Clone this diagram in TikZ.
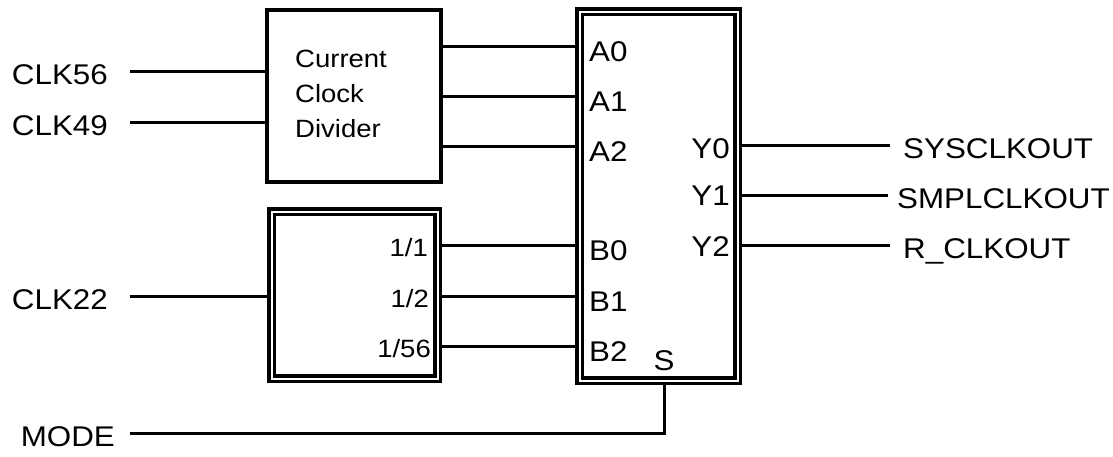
\documentclass[tikz,border=0pt]{standalone}
\usepackage{fontspec}
\setmainfont{Liberation Sans}[FakeStretch=1.1]
\usetikzlibrary{positioning,backgrounds}

\begin{document}
\begin{tikzpicture}[
  x=1pt, y=-1pt,
  wire/.style={line width=3pt},
  blk/.style={draw, line width=4pt, fill=white, inner sep=0pt},
  dblk/.style={draw, double, line width=3.5pt, double distance=2pt, fill=white, inner sep=0pt},
  inport/.style={font=\fontsize{28.5}{34}\selectfont, anchor=east, inner ysep=0pt,
                 inner xsep=22pt, text height=27pt, text depth=0pt},
  outport/.style={font=\fontsize{28.5}{34}\selectfont, anchor=west, inner ysep=0pt,
                  inner xsep=13pt, text height=26pt, text depth=0pt},
  pin/.style={font=\fontsize{28.5}{34}\selectfont, anchor=west, inner sep=0pt,
              text height=31pt, text depth=0pt},
  ratio/.style={font=\fontsize{25}{30}\selectfont, anchor=east, inner sep=0pt,
                text height=23pt, text depth=0pt}
]
\useasboundingbox (0,0) rectangle (1113,456);
% --- blocks -------------------------------------------------------------
\node[blk, minimum width=174pt, minimum height=172pt] (ccd) at (354,96) {};
\node[dblk, minimum width=166pt, minimum height=167pt] (div) at (354.5,295) {};
\node[dblk, minimum width=158pt, minimum height=369pt] (mux) at (658.5,196) {};
\node[anchor=north west, align=left, inner sep=0pt,
      font=\fontsize{25}{35}\selectfont] (ccdtxt) at (295,50) {Current\\Clock\\Divider};
% --- inputs -------------------------------------------------------------
\node[inport] (clk56) at (130,71)  {CLK56};
\node[inport] (clk49) at (130,122) {CLK49};
\node[inport] (clk22) at (130,296) {CLK22};
\node[inport, inner xsep=15pt] (mode) at (130,433) {MODE};
% --- divider taps -------------------------------------------------------
\node[ratio] (r1)  at (428,245) {1/1};
\node[ratio] (r2)  at (429,296) {1/2};
\node[ratio] (r56) at (431,346) {1/56};
% --- mux pins -----------------------------------------------------------
\node[pin] (a0) at (589,46)  {A0};
\node[pin] (a1) at (589,96)  {A1};
\node[pin] (a2) at (589,146) {A2};
\node[pin] (b0) at (589,245) {B0};
\node[pin] (b1) at (589,296) {B1};
\node[pin] (b2) at (589,346) {B2};
\node[font=\fontsize{28.5}{34}\selectfont, anchor=base east, inner sep=0pt] (y0) at (730,158) {Y0};
\node[font=\fontsize{28.5}{34}\selectfont, anchor=base east, inner sep=0pt] (y1) at (730,205) {Y1};
\node[font=\fontsize{28.5}{34}\selectfont, anchor=base east, inner sep=0pt] (y2) at (730,256) {Y2};
\node[font=\fontsize{28.5}{34}\selectfont, anchor=base, inner sep=0pt] (sel) at (664,370) {S};
% --- outputs ------------------------------------------------------------
\node[outport] (sysclk) at (890,145) {SYSCLKOUT};
\node[outport, inner xsep=9pt] (smplclk) at (888,195) {SMPLCLKOUT};
\node[outport] (rclk)   at (890,245) {R\_CLKOUT};
% --- wires --------------------------------------------------------------
\begin{scope}[on background layer]
\draw[wire] (clk56) -- (clk56 -| ccd.west);
\draw[wire] (clk49) -- (clk49 -| ccd.west);
\draw[wire] (clk22) -- (clk22 -| div.west);
\draw[wire] (ccd.east |- a0) -- (a0 -| mux.west);
\draw[wire] (ccd.east |- a1) -- (a1 -| mux.west);
\draw[wire] (ccd.east |- a2) -- (a2 -| mux.west);
\draw[wire] (div.east |- r1)  -- (r1 -| mux.west);
\draw[wire] (div.east |- r2)  -- (r2 -| mux.west);
\draw[wire] (div.east |- r56) -- (r56 -| mux.west);
\draw[wire] (mux.east |- sysclk)  -- (sysclk);
\draw[wire] (mux.east |- smplclk) -- (smplclk);
\draw[wire] (mux.east |- rclk)    -- (rclk);
\draw[wire] (mode) -| (mux.south -| sel);
\end{scope}
\end{tikzpicture}
\end{document}
